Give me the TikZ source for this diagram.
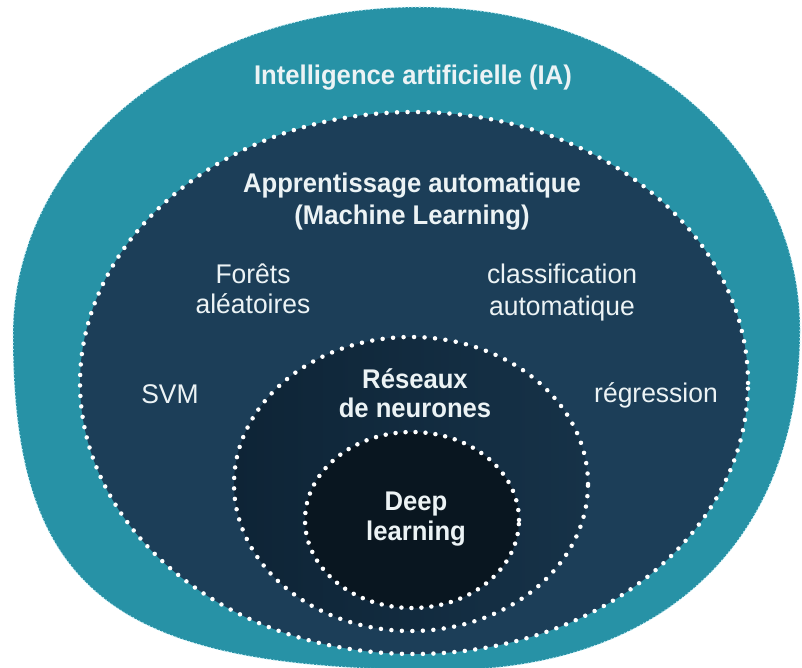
\documentclass[tikz,border=0pt]{standalone}
\usepackage{fontspec}
\newfontfamily\lab{Liberation Sans}[FakeStretch=0.98]
\newfontfamily\blab{Liberation Sans Bold}[FakeStretch=0.95]
\definecolor{teal1}{RGB}{39,146,166}
\definecolor{fringe}{RGB}{200,240,248}
\definecolor{mlblue}{RGB}{28,62,88}
\definecolor{nnleft}{RGB}{14,36,54}
\definecolor{nnright}{RGB}{22,50,72}
\definecolor{dlblue}{RGB}{9,22,32}
\definecolor{txt}{RGB}{236,243,245}
\tikzset{
  lbl/.style={anchor=base, text=txt, inner sep=0pt, font=\lab\fontsize{27}{31}\selectfont},
  blbl/.style={lbl, font=\blab\fontsize{27}{31}\selectfont},
  bigdots/.style={draw=white, line width=4.5pt, line cap=round, dash pattern=on 0pt off 10.5pt},
  finedots/.style={draw=fringe, line width=1.6pt, line cap=round, dash pattern=on 0pt off 3.6pt}
}
\def\outershape{(420,7) .. controls (633,7) and (800,150) .. (800,330)
  .. controls (800,540) and (663,670) .. (445,670)
  .. controls (116,670) and (13,594) .. (13,335)
  .. controls (13,151) and (192,7) .. (420,7) -- cycle}
\begin{document}
\begin{tikzpicture}[x=1pt,y=-1pt]
\useasboundingbox (0,0) rectangle (802,668);
% outer IA shape
\fill[teal1] \outershape;
\path[finedots] \outershape;
% machine learning
\fill[mlblue] (414,383) ellipse (334pt and 271pt);
\path[bigdots] (414,383) ellipse (334pt and 271pt);
% neural networks
\shade[left color=nnleft, right color=nnright] (411,484) ellipse (177pt and 147pt);
\path[bigdots] (411,484) ellipse (177pt and 147pt);
% deep learning
\fill[dlblue] (412,520) ellipse (107pt and 88pt);
\path[bigdots, dash pattern=on 0pt off 10pt] (412,520) ellipse (107pt and 88pt);
% labels
\node[blbl] (ia) at (413,85) {Intelligence artificielle (IA)};
\node[blbl] (ml1) at (412,193) {Apprentissage automatique};
\node[blbl] (ml2) at (412,225) {(Machine Learning)};
\node[lbl] (rf1) at (253,283) {Forêts};
\node[lbl] (rf2) at (253,313) {aléatoires};
\node[lbl] (cl1) at (562,283) {classification};
\node[lbl] (cl2) at (562,315) {automatique};
\node[lbl] (svm) at (170,403) {SVM};
\node[lbl] (reg) at (656,402) {régression};
\node[blbl] (nn1) at (415,388) {Réseaux};
\node[blbl] (nn2) at (415,417) {de neurones};
\node[blbl] (dl1) at (416,510) {Deep};
\node[blbl] (dl2) at (416,540) {learning};
\end{tikzpicture}
\end{document}
